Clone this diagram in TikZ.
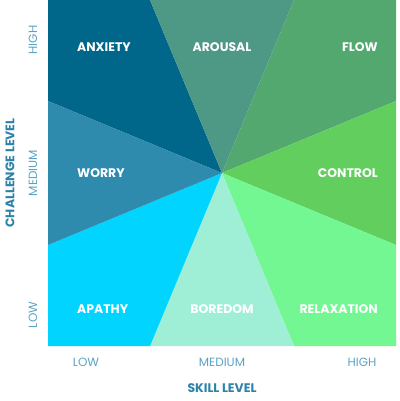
\documentclass[tikz,border=0pt]{standalone}
\usepackage{fontspec}
\setmainfont{Poppins}
\usetikzlibrary{backgrounds}

\begin{document}
\begin{tikzpicture}[
		x=1bp, y=-1bp,
		zonelabel/.style={
			text=white,
			inner sep=0pt,
			font=\bfseries\fontsize{12.5}{14}\selectfont,
		},
		ticklabel/.style={
			text=tickblue,
			inner sep=0pt,
			font=\fontsize{12}{14}\selectfont,
		},
		axislabel/.style={
			text=axisblue,
			inner sep=0pt,
			font=\bfseries\fontsize{12.5}{14}\selectfont,
		},
	]

		% Couleurs
		\definecolor{anxiety}{HTML}{00678A}
		\definecolor{arousal}{HTML}{4E9886}
		\definecolor{flow}{HTML}{52A86F}
		\definecolor{control}{HTML}{62CE5E}
		\definecolor{relax}{HTML}{72F792}
		\definecolor{boredom}{HTML}{9EEFD6}
		\definecolor{apathy}{HTML}{00D4FF}
		\definecolor{worry}{HTML}{2E8BAD}
		\definecolor{axisblue}{HTML}{2E82A8}
		\definecolor{tickblue}{HTML}{5AA3C4}

		\useasboundingbox (0,0) rectangle (400,401);

		% Points du carré
		\coordinate (c) at (222,173);
		\coordinate (tl) at (48,0);
		\coordinate (tr) at (396,0);
		\coordinate (br) at (396,346);
		\coordinate (bl) at (48,346);
		\coordinate (t1) at (150,0);
		\coordinate (t2) at (294,0);
		\coordinate (r1) at (396,101);
		\coordinate (r2) at (396,245);
		\coordinate (b1) at (150,346);
		\coordinate (b2) at (294,346);
		\coordinate (l1) at (48,101);
		\coordinate (l2) at (48,245);

		% Secteurs
		\fill[anxiety] (tl) -- (t1) -- (c) -- (l1) -- cycle;
		\fill[arousal] (t1) -- (t2) -- (c) -- cycle;
		\fill[flow] (t2) -- (tr) -- (r1) -- (c) -- cycle;
		\fill[control] (r1) -- (r2) -- (c) -- cycle;
		\fill[relax] (r2) -- (br) -- (b2) -- (c) -- cycle;
		\fill[boredom] (b2) -- (b1) -- (c) -- cycle;
		\fill[apathy] (b1) -- (bl) -- (l2) -- (c) -- cycle;
		\fill[worry] (l2) -- (l1) -- (c) -- cycle;

		% Etiquettes des zones
		\node[zonelabel, anchor=west] (anxietylbl) at (77,47) {ANXIETY};
		\node[zonelabel] (arousallbl) at (222,47) {AROUSAL};
		\node[zonelabel, anchor=east] (flowlbl) at (378,47) {FLOW};
		\node[zonelabel, anchor=west] (worrylbl) at (77,173) {WORRY};
		\node[zonelabel, anchor=east] (controllbl) at (378,173) {CONTROL};
		\node[zonelabel, anchor=west] (apathylbl) at (77,309) {APATHY};
		\node[zonelabel] (boredomlbl) at (222,309) {BOREDOM};
		\node[zonelabel, anchor=east] (relaxlbl) at (378,309) {RELAXATION};

		% Axes
		\node[ticklabel, rotate=90] (yhigh) at (33,40) {HIGH};
		\node[ticklabel, rotate=90] (ymed) at (33,173) {MEDIUM};
		\node[ticklabel, rotate=90] (ylow) at (33,315) {LOW};
		\node[axislabel, rotate=90] (yaxis) at (10,173) {CHALLENGE LEVEL};

		\node[ticklabel] (xlow) at (86,362) {LOW};
		\node[ticklabel] (xmed) at (222,362) {MEDIUM};
		\node[ticklabel] (xhigh) at (362,362) {HIGH};
		\node[axislabel] (xaxis) at (222,388) {SKILL LEVEL};

	\end{tikzpicture}
\end{document}
